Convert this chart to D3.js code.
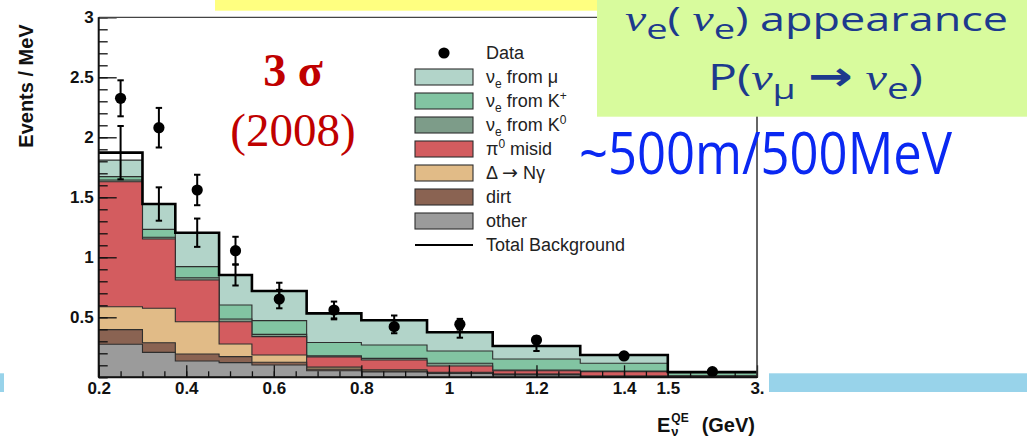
<!DOCTYPE html>
<html><head><meta charset="utf-8">
<script src="https://cdn.jsdelivr.net/npm/d3@7"></script>
<style>
html,body{margin:0;padding:0;background:#fff;}
svg{display:block;}
</style></head>
<body>
<svg id="chart" width="1027" height="445"></svg>
<script>
// Reconstructed neutrino energy bins (GeV); the last bin is drawn compressed
const binEdges = [0.2, 0.3, 0.375, 0.475, 0.55, 0.675, 0.8, 0.95, 1.1, 1.3, 1.5, 3.0];

// Background contributions per bin (events / MeV), listed bottom to top of the stack
const bgOther   = [0.276, 0.208, 0.136, 0.122, 0.103, 0.055, 0.045, 0.033, 0.020, 0.006, 0.004];
const bgDirt    = [0.121, 0.080, 0.058, 0.050, 0.022, 0.013, 0.008, 0.005, 0.004, 0.002, 0.001];
const bgDelta   = [0.191, 0.287, 0.269, 0.106, 0.061, 0.017, 0.009, 0.004, 0.003, 0.002, 0.001];
const bgPi0     = [1.042, 0.577, 0.348, 0.185, 0.153, 0.085, 0.082, 0.052, 0.028, 0.037, 0.004];
const bgNueK0   = [0.014, 0.015, 0.019, 0.023, 0.019, 0.010, 0.014, 0.023, 0.006, 0.006, 0.002];
const bgNueKp   = [0.028, 0.066, 0.092, 0.117, 0.114, 0.110, 0.111, 0.102, 0.091, 0.064, 0.024];
const bgNueMu   = [0.138, 0.211, 0.283, 0.250, 0.247, 0.243, 0.206, 0.156, 0.109, 0.069, 0.008];

// Total background and its systematic uncertainty
const totalBg    = [1.872, 1.444, 1.205, 0.853, 0.719, 0.533, 0.475, 0.375, 0.261, 0.186, 0.044];
const totalBgErr = [0.222, 0.139, 0.118, 0.088, 0.069, 0.050, 0.040, 0.045, 0.042, 0.020, 0.008];

// Observed data
const dataVal = [2.325, 2.080, 1.561, 1.055, 0.652, 0.561, 0.422, 0.442, 0.311, 0.178, 0.047];
const dataErr = [0.150, 0.165, 0.127, 0.116, 0.077, 0.070, 0.055, 0.045, 0.030, 0.020, 0.010];

// Axis ticks
const xTickValues = [0.2, 0.4, 0.6, 0.8, 1.0, 1.2, 1.4, 1.5, 3.0];
const xTickLabels = ["0.2", "0.4", "0.6", "0.8", "1", "1.2", "1.4", "1.5", "3."];
const yTickValues = [0.5, 1, 1.5, 2, 2.5, 3];
const yTickLabels = ["0.5", "1", "1.5", "2", "2.5", "3"];

// Stack definition (bottom to top) and legend entries
const stackSeries = [
  {key: "other", values: bgOther, color: "#9b9b9b"},
  {key: "dirt",  values: bgDirt,  color: "#8a6352"},
  {key: "delta", values: bgDelta, color: "#e1bb87"},
  {key: "pi0",   values: bgPi0,   color: "#d35c5f"},
  {key: "k0",    values: bgNueK0, color: "#7d9c89"},
  {key: "kp",    values: bgNueKp, color: "#82c4a2"},
  {key: "mu",    values: bgNueMu, color: "#b2d4c9"}
];
const legendOrder = ["mu", "kp", "k0", "pi0", "delta", "dirt", "other"];

const svg = d3.select("#chart");
const SANS = "'Liberation Sans', Arial, Helvetica, sans-serif";

// ---- slide decorations behind the plot ----
svg.append("rect").attr("x", 215).attr("y", 0).attr("width", 400).attr("height", 10.7).attr("fill", "#ffff80");
svg.append("rect").attr("x", 0).attr("y", 373.3).attr("width", 4).attr("height", 18.7).attr("fill", "#98d3ea");
svg.append("rect").attr("x", 769).attr("y", 373.3).attr("width", 258).attr("height", 18.7).attr("fill", "#98d3ea");

// ---- scales ----
const x = d3.scaleLinear().domain([0.2, 1.5, 3.0]).range([98.7, 667.8, 757]);
const y = d3.scaleLinear().domain([0, 3]).range([377.3, 17.3]);

const nBins = binEdges.length - 1;
const bins = d3.range(nBins).map(i => ({x0: binEdges[i], x1: binEdges[i + 1], xc: (binEdges[i] + binEdges[i + 1]) / 2}));

// cumulative stack tops
let running = new Array(nBins).fill(0);
const layers = stackSeries.map(s => {
  running = running.map((r, i) => r + s.values[i]);
  return {key: s.key, color: s.color, top: running.slice()};
});

const plot = svg.append("g");
const line = d3.line().x(d => x(d[0])).y(d => y(d[1]));

// draw cumulative histograms from the largest down so lower layers sit on top
layers.slice().reverse().forEach(layer => {
  const pts = [[binEdges[0], 0]];
  bins.forEach((b, i) => { pts.push([b.x0, layer.top[i]]); pts.push([b.x1, layer.top[i]]); });
  pts.push([binEdges[nBins], 0]);
  plot.append("path")
    .attr("d", line(pts) + "Z")
    .attr("fill", layer.color)
    .attr("stroke", "#2e2e2e")
    .attr("stroke-width", 1.1)
    .attr("stroke-linejoin", "miter");
});

// ---- axes ----
const minorX = d3.range(0, 27).map(k => +(0.2 + k * 0.05).toFixed(3)).concat([1.875, 2.25, 2.625]);
const minorY = d3.range(0, 31).map(k => +(k * 0.1).toFixed(2));

const xMinor = d3.axisBottom(x).tickValues(minorX).tickSize(-6).tickFormat("");
const xMajor = d3.axisBottom(x).tickValues(xTickValues).tickSize(-12).tickPadding(5)
  .tickFormat((d, i) => xTickLabels[i]);
const yMinor = d3.axisLeft(y).tickValues(minorY).tickSize(-9).tickFormat("");
const yMajor = d3.axisLeft(y).tickValues(yTickValues).tickSize(-18).tickPadding(5)
  .tickFormat((d, i) => yTickLabels[i]);

function styleAxis(g) {
  g.select(".domain").remove();
  g.selectAll(".tick line").attr("stroke", "#111").attr("stroke-width", 1.3);
  g.selectAll(".tick text").attr("fill", "#111").style("font-family", SANS)
    .style("font-weight", "bold").style("font-size", "17px");
}
svg.append("g").attr("transform", `translate(0,${y(0)})`).call(xMinor).call(styleAxis);
svg.append("g").attr("transform", `translate(0,${y(0)})`).call(xMajor).call(styleAxis);
svg.append("g").attr("transform", `translate(${x(0.2)},0)`).call(yMinor).call(styleAxis);
svg.append("g").attr("transform", `translate(${x(0.2)},0)`).call(yMajor).call(styleAxis);

// ---- total background step line ----
const totPts = [];
bins.forEach((b, i) => { totPts.push([b.x0, totalBg[i]]); totPts.push([b.x1, totalBg[i]]); });
svg.append("path").attr("d", line(totPts)).attr("fill", "none")
  .attr("stroke", "#000").attr("stroke-width", 2.6).attr("stroke-linejoin", "miter");

// error bars helper
function errBar(g, xc, v, e) {
  const xp = x(xc);
  g.append("line").attr("x1", xp).attr("x2", xp).attr("y1", y(v - e)).attr("y2", y(v + e))
    .attr("stroke", "#000").attr("stroke-width", 2);
  [v - e, v + e].forEach(t => g.append("line").attr("x1", xp - 3.2).attr("x2", xp + 3.2)
    .attr("y1", y(t)).attr("y2", y(t)).attr("stroke", "#000").attr("stroke-width", 2));
}
const errG = svg.append("g");
bins.forEach((b, i) => errBar(errG, b.xc, totalBg[i], totalBgErr[i]));

// ---- data points ----
bins.forEach((b, i) => errBar(errG, b.xc, dataVal[i], dataErr[i]));
svg.append("g").selectAll("circle").data(bins).join("circle")
  .attr("cx", d => x(d.xc)).attr("cy", (d, i) => y(dataVal[i])).attr("r", 5.6).attr("fill", "#000");

// ---- frame ----
const fr = svg.append("g").attr("fill", "none");
fr.append("line").attr("x1", x(0.2)).attr("x2", x(3.0)).attr("y1", y(3)).attr("y2", y(3)).attr("stroke", "#444").attr("stroke-width", 1.3);
fr.append("line").attr("x1", x(3.0)).attr("x2", x(3.0)).attr("y1", y(3)).attr("y2", y(0)).attr("stroke", "#333").attr("stroke-width", 1.5);
fr.append("line").attr("x1", x(0.2)).attr("x2", x(0.2)).attr("y1", y(3)).attr("y2", y(0)).attr("stroke", "#111").attr("stroke-width", 2);
fr.append("line").attr("x1", x(0.2)).attr("x2", x(3.0)).attr("y1", y(0)).attr("y2", y(0)).attr("stroke", "#111").attr("stroke-width", 2);

// ---- axis titles ----
svg.append("text").attr("transform", "translate(33,86) rotate(-90)")
  .attr("text-anchor", "middle").style("font-family", SANS).style("font-weight", "bold")
  .style("font-size", "20px").attr("fill", "#111").text("Events / MeV");

const xt = svg.append("g").style("font-family", SANS).style("font-weight", "bold").attr("fill", "#111");
const eTxt = xt.append("text").attr("x", 657).attr("y", 431.7).style("font-size", "20px").text("E");
const eW = eTxt.node().getComputedTextLength();
xt.append("text").attr("x", 657 + eW + 1).attr("y", 422).style("font-size", "12px").text("QE");
xt.append("text").attr("x", 657 + eW + 1).attr("y", 436).style("font-size", "13px").text("ν");
xt.append("text").attr("x", 755).attr("y", 431.7).attr("text-anchor", "end").style("font-size", "20px").text("(GeV)");

// ---- legend ----
const leg = svg.append("g").style("font-family", SANS).style("font-size", "18px").attr("fill", "#222");
const legX = 415, legW = 58, legTextX = 486, legY0 = 53, legDy = 24;
leg.append("circle").attr("cx", 444).attr("cy", legY0).attr("r", 5.6).attr("fill", "#000");
leg.append("text").attr("x", legTextX).attr("y", legY0 + 6).text("Data");

const legendLabels = {
  mu:    t => { t.append("tspan").text("ν"); t.append("tspan").attr("dy", 5).style("font-size", "12px").text("e");
                t.append("tspan").attr("dy", -5).text(" from μ"); },
  kp:    t => { t.append("tspan").text("ν"); t.append("tspan").attr("dy", 5).style("font-size", "12px").text("e");
                t.append("tspan").attr("dy", -5).text(" from K"); t.append("tspan").attr("dy", -7).style("font-size", "12px").text("+"); },
  k0:    t => { t.append("tspan").text("ν"); t.append("tspan").attr("dy", 5).style("font-size", "12px").text("e");
                t.append("tspan").attr("dy", -5).text(" from K"); t.append("tspan").attr("dy", -7).style("font-size", "12px").text("0"); },
  pi0:   t => { t.append("tspan").text("π"); t.append("tspan").attr("dy", -7).style("font-size", "12px").text("0");
                t.append("tspan").attr("dy", 7).text(" misid"); },
  delta: t => { t.append("tspan").text("Δ ");
                t.append("tspan").style("font-family", "'DejaVu Sans', sans-serif").style("font-size", "19px").text("→");
                t.append("tspan").text(" Nγ"); },
  dirt:  t => { t.text("dirt"); },
  other: t => { t.text("other"); }
};
legendOrder.forEach((k, j) => {
  const s = stackSeries.find(d => d.key === k);
  const cy = legY0 + legDy * (j + 1);
  leg.append("rect").attr("x", legX).attr("y", cy - 8).attr("width", legW).attr("height", 16)
    .attr("fill", s.color).attr("stroke", "#2e2e2e").attr("stroke-width", 1.1);
  const t = leg.append("text").attr("x", legTextX).attr("y", cy + 6);
  legendLabels[k](t);
});
const lastY = legY0 + legDy * (legendOrder.length + 1);
leg.append("line").attr("x1", legX).attr("x2", legX + legW).attr("y1", lastY).attr("y2", lastY)
  .attr("stroke", "#000").attr("stroke-width", 2);
leg.append("text").attr("x", legTextX).attr("y", lastY + 6).text("Total Background");

// ---- annotations ----
svg.append("text").attr("x", 293).attr("y", 86).attr("text-anchor", "middle")
  .style("font-family", "'Liberation Serif', 'Times New Roman', serif").style("font-weight", "bold")
  .style("font-size", "46px").attr("fill", "#c00000").text("3 σ");
svg.append("text").attr("x", 293).attr("y", 146).attr("text-anchor", "middle")
  .style("font-family", "'Liberation Serif', 'Times New Roman', serif")
  .style("font-size", "47px").attr("fill", "#c00000").text("(2008)");

// green call-out box
svg.append("rect").attr("x", 597).attr("y", 0).attr("width", 430).attr("height", 116.7).attr("fill", "#d8fb9d");
const navy = "#1d3a8d";
const OS = "'Open Sans', 'Noto Sans', sans-serif";
const l1 = svg.append("text").attr("x", 625).attr("y", 31).attr("fill", navy)
  .style("font-family", OS).style("font-size", "33px")
  .attr("textLength", 383).attr("lengthAdjust", "spacingAndGlyphs");
l1.append("tspan").style("font-family", "'Liberation Serif', serif").style("font-style", "italic").style("font-size", "35px").text("ν");
l1.append("tspan").attr("dy", 8).style("font-size", "28px").text("e");
l1.append("tspan").attr("dy", -8).text("( ");
l1.append("tspan").style("font-family", "'Liberation Serif', serif").style("font-style", "italic").style("font-size", "35px").text("ν");
l1.append("tspan").attr("dy", 8).style("font-size", "28px").text("e");
l1.append("tspan").attr("dy", -8).text(") appearance");

const l2 = svg.append("text").attr("x", 708).attr("y", 90).attr("fill", navy)
  .style("font-family", OS).style("font-size", "36px")
  .attr("textLength", 215).attr("lengthAdjust", "spacingAndGlyphs");
l2.append("tspan").text("P(");
l2.append("tspan").style("font-family", "'Liberation Serif', serif").style("font-style", "italic").text("ν");
l2.append("tspan").attr("dy", 9).style("font-size", "28px").text("μ");
l2.append("tspan").attr("dy", -9).text(" ");
l2.append("tspan").style("font-family", "'DejaVu Sans', sans-serif").style("font-weight", "bold").style("font-size", "40px").text("→");
l2.append("tspan").text(" ");
l2.append("tspan").style("font-family", "'Liberation Serif', serif").style("font-style", "italic").text("ν");
l2.append("tspan").attr("dy", 9).style("font-size", "29px").text("e");
l2.append("tspan").attr("dy", -9).text(")");

svg.append("text").attr("x", 579).attr("y", 174).attr("fill", "#0a28f2")
  .style("font-family", OS).style("font-size", "58px")
  .attr("textLength", 373).attr("lengthAdjust", "spacingAndGlyphs").text("~500m/500MeV");
</script>
</body></html>
